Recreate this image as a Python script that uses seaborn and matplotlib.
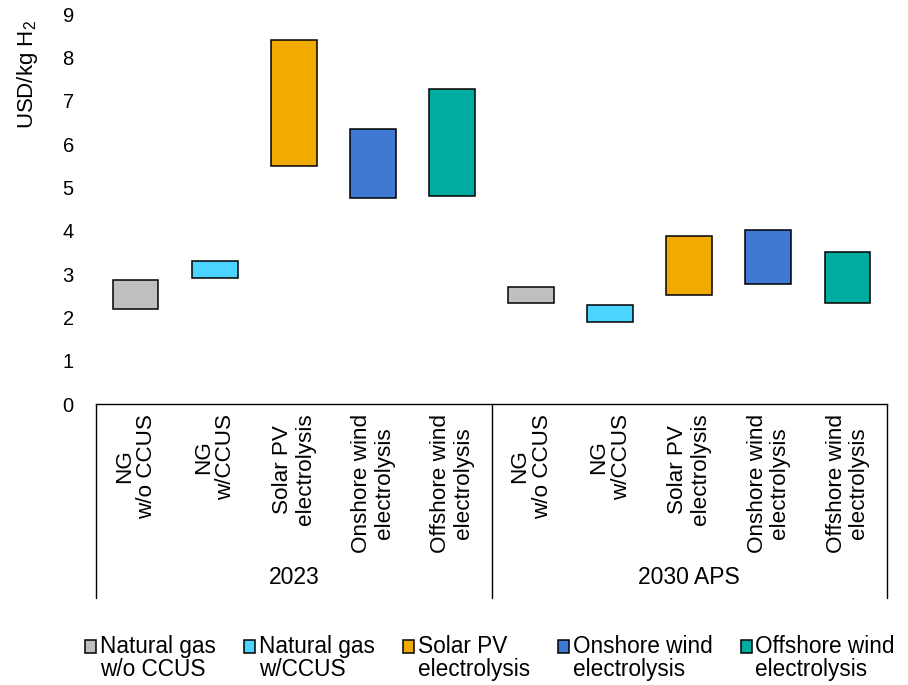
import matplotlib
matplotlib.use("Agg")
import matplotlib.pyplot as plt
import matplotlib.transforms as mtransforms
from matplotlib.patches import Patch, Rectangle
from matplotlib.legend_handler import HandlerPatch
import seaborn as sns
import pandas as pd

# ---------------- data ----------------
groups = ["2023", "2030 APS"]
techs = ["NG\nw/o CCUS", "NG\nw/CCUS", "Solar PV\nelectrolysis",
         "Onshore wind\nelectrolysis", "Offshore wind\nelectrolysis"]
legend_labels = ["Natural gas\nw/o CCUS", "Natural gas\nw/CCUS", "Solar PV\nelectrolysis",
                 "Onshore wind\nelectrolysis", "Offshore wind\nelectrolysis"]
low_2023 = [2.19, 2.90, 5.50, 4.75, 4.79]
high_2023 = [2.86, 3.30, 8.39, 6.34, 7.26]
low_2030 = [2.34, 1.89, 2.52, 2.77, 2.33]
high_2030 = [2.69, 2.29, 3.88, 4.01, 3.51]
colors = ["#BFBFBF", "#4AD4FF", "#F0AA00", "#4079D3", "#00ACA0"]
yticks = list(range(0, 10))

# ---------------- build table ----------------
rows = []
for g, lows, highs in [(groups[0], low_2023, high_2023), (groups[1], low_2030, high_2030)]:
    for t, lo, hi in zip(techs, lows, highs):
        rows.append({"key": f"{g}|{t}", "group": g, "tech": t, "low": lo, "high": hi,
                     "range": hi - lo})
df = pd.DataFrame(rows)
order = list(df["key"])

sns.set_style("white")
plt.rcParams["font.family"] = ["Liberation Sans", "DejaVu Sans"]
plt.rcParams["mathtext.fontset"] = "custom"
plt.rcParams["mathtext.rm"] = "Liberation Sans"
plt.rcParams["mathtext.it"] = "Liberation Sans:italic"
plt.rcParams["text.color"] = "black"
plt.rcParams["xtick.color"] = "black"
plt.rcParams["ytick.color"] = "black"

fig = plt.figure(figsize=(9.08, 6.85), dpi=100)
ax = fig.add_axes([96 / 908, 1 - 404 / 685, (887 - 96) / 908, 390 / 685])

for t, c in zip(techs, colors):
    sub = df[df["tech"] == t]
    sns.barplot(data=sub, x="key", y="range", order=order, color=c, width=0.58,
                saturation=1, bottom=sub["low"].to_numpy(), edgecolor="black",
                linewidth=1.1, ax=ax, errorbar=None)

ax.set_ylim(0, 9)
ax.set_xlim(-0.5, len(order) - 0.5)
ax.set_yticks(yticks)
ax.set_yticklabels([str(v) for v in yticks], fontsize=14.5)
ax.set_xticks(range(len(order)))
ax.set_xticklabels(list(df["tech"]), rotation=90, fontsize=16.2, va="top",
                   ha="center", multialignment="center", linespacing=1.1)
ax.tick_params(axis="both", length=0)
ax.tick_params(axis="x", pad=7)
ax.tick_params(axis="y", pad=16)
ax.set_xlabel("")
ax.set_ylabel("")
for s in ["top", "right", "left"]:
    ax.spines[s].set_visible(False)
ax.spines["bottom"].set_color("black")
ax.spines["bottom"].set_linewidth(1.0)
ax.grid(False)

# group separators and labels
trans = mtransforms.blended_transform_factory(ax.transData, ax.transAxes)
ybot = -(598 - 404) / 390
for xb in [-0.5, 4.5, 9.5]:
    ax.plot([xb, xb], [0, ybot], color="black", lw=1.0, transform=trans, clip_on=False)
for i, g in enumerate(groups):
    ax.text(2 + 5 * i, -(578 - 404) / 390, g, transform=trans, ha="center", va="center",
            fontsize=16.5)

# y label
fig.text(27 / 908, 1 - 75 / 685, "USD/kg H$_2$", rotation=90, ha="center", va="center",
         fontsize=16)


# legend with handles aligned to the first text line
def up_patch(legend, orig_handle, xdescent, ydescent, width, height, fontsize):
    return Rectangle(xy=(-xdescent, -ydescent + 0.55 * fontsize), width=width, height=height)


handles = [Patch(facecolor=c, edgecolor="black", linewidth=1.1) for c in colors]
leg = fig.legend(handles, legend_labels, loc="center", bbox_to_anchor=(490 / 908, 1 - 658 / 685),
                 ncol=5, frameon=False, fontsize=16.3, handlelength=0.5, handleheight=0.5,
                 handletextpad=0.15, columnspacing=1.25, labelspacing=0.2,
                 handler_map={Patch: HandlerPatch(patch_func=up_patch)})
for txt in leg.get_texts():
    txt.set_linespacing(1.05)

fig.savefig("out.png", dpi=100)
